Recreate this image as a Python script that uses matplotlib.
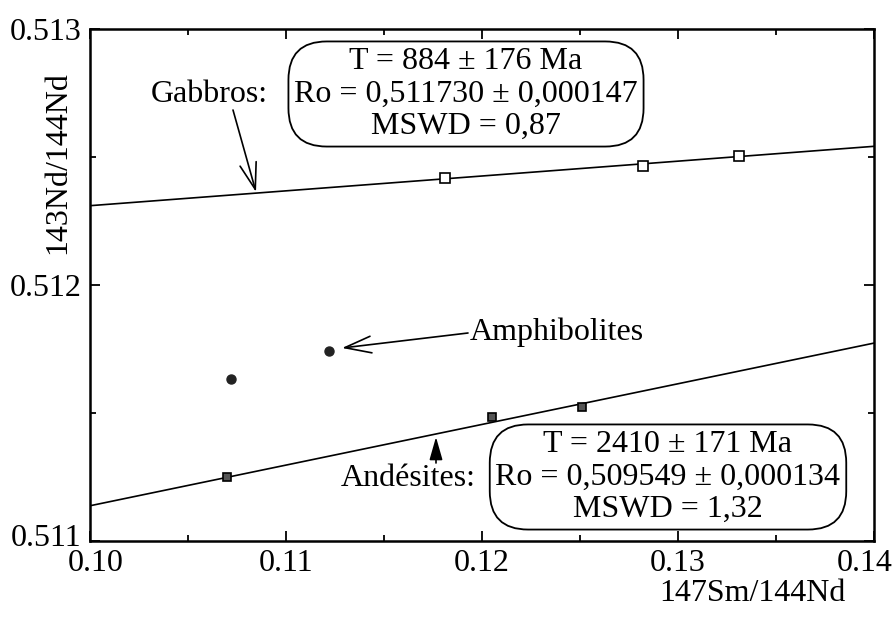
import numpy as np
import matplotlib
matplotlib.use("Agg")
import matplotlib.pyplot as plt
from matplotlib.transforms import ScaledTranslation

plt.rcParams['font.family'] = ['Liberation Serif', 'DejaVu Serif']

# Data
gabbro_sm = [0.1181, 0.1282, 0.1331]
gabbro_nd = [0.512417, 0.512466, 0.512504]

andesite_sm = [0.1070, 0.1205, 0.1251]
andesite_nd = [0.511251, 0.511483, 0.511522]

amphibolite_sm = [0.1072, 0.1122]
amphibolite_nd = [0.511632, 0.511742]

# Isochron results
gabbro_age = 884e6
gabbro_ro = 0.511730
andesite_age = 2410e6
andesite_ro = 0.509549
lam_sm = 6.54e-12  # 147Sm decay constant (1/yr)

x_ticks = [0.10, 0.11, 0.12, 0.13, 0.14]
x_labels = ['0.10', '0.11', '0.12', '0.13', '0.14']
y_ticks = [0.511, 0.512, 0.513]
y_labels = ['0.511', '0.512', '0.513']

FS = 23
W, H = 895, 621
L, R, T, B = 90, 874, 29, 541


def ax_pos(px, py):
    # pixel position in the picture -> axes fraction
    return ((px - L) / (R - L), (B - py) / (B - T))


fig = plt.figure(figsize=(W / 100, H / 100), dpi=100)
ax = fig.add_axes([L / W, 1 - B / H, (R - L) / W, (B - T) / H])

# isochron lines
xl = np.array([0.10, 0.14])
ax.plot(xl, gabbro_ro + (np.exp(lam_sm * gabbro_age) - 1) * xl, color='black', lw=1.2)
ax.plot(xl, andesite_ro + (np.exp(lam_sm * andesite_age) - 1) * xl, color='black', lw=1.2)

ax.plot(gabbro_sm, gabbro_nd, 's', ms=7, mfc='white', mec='black', mew=1.2, zorder=3)
ax.plot(andesite_sm, andesite_nd, 's', ms=6, mfc='#555555', mec='black', mew=1.2, zorder=3)
ax.plot(amphibolite_sm, amphibolite_nd, 'o', ms=6.5, mfc='#222222', mec='#222222', zorder=3)

ax.set_xlim(0.10, 0.14)
ax.set_ylim(0.511, 0.513)
ax.set_xticks(x_ticks)
ax.set_xticklabels(x_labels)
ax.set_yticks(y_ticks)
ax.set_yticklabels(y_labels)
ax.set_xticks([0.105, 0.115, 0.125, 0.135], minor=True)
ax.set_yticks([0.5115, 0.5125], minor=True)
ax.tick_params(which='both', direction='in', top=True, right=True,
               labelsize=FS, width=1.3)
ax.tick_params(axis='x', pad=6)
ax.tick_params(axis='y', pad=6)
ax.tick_params(which='major', length=7)
ax.tick_params(which='minor', length=4)
for s in ax.spines.values():
    s.set_linewidth(1.8)

# nudge the corner labels like in the original
xt = ax.get_xticklabels()
xt[0].set_transform(xt[0].get_transform() + ScaledTranslation(6 / 100, 0, fig.dpi_scale_trans))
xt[-1].set_transform(xt[-1].get_transform() + ScaledTranslation(-9 / 100, 0, fig.dpi_scale_trans))
yt = ax.get_yticklabels()
yt[0].set_transform(yt[0].get_transform() + ScaledTranslation(0, 6 / 100, fig.dpi_scale_trans))

fig.text(58 / W, 1 - 163 / H, '143Nd/144Nd', rotation=90, fontsize=FS,
         ha='center', va='center')
fig.text(752 / W, 1 - 601 / H, '147Sm/144Nd', fontsize=FS,
         ha='center', va='baseline')

box = dict(boxstyle='round,pad=0.18,rounding_size=1.2', fc='white', ec='black', lw=1.3)
ax.text(*ax_pos(466, 94), 'T = 884 ± 176 Ma\nRo = 0,511730 ± 0,000147\nMSWD = 0,87',
        transform=ax.transAxes, ha='center', va='center', fontsize=FS,
        linespacing=1.15, bbox=box)
ax.text(*ax_pos(668, 477), 'T = 2410 ± 171 Ma\nRo = 0,509549 ± 0,000134\nMSWD = 1,32',
        transform=ax.transAxes, ha='center', va='center', fontsize=FS,
        linespacing=1.15, bbox=box)

# labels
ax.text(*ax_pos(209, 95), 'Gabbros:', transform=ax.transAxes, fontsize=FS,
        ha='center', va='center')
ax.text(*ax_pos(470, 332), 'Amphibolites', transform=ax.transAxes, fontsize=FS,
        ha='left', va='center')
ax.text(*ax_pos(408, 479), 'Andésites:', transform=ax.transAxes, fontsize=FS,
        ha='center', va='center')

# arrows
open_head = dict(arrowstyle='->,head_length=0.95,head_width=0.3', mutation_scale=20,
                 color='black', lw=1.2, shrinkA=0, shrinkB=0)
ax.annotate('', xy=ax_pos(256, 192), xytext=ax_pos(233, 110),
            xycoords='axes fraction', textcoords='axes fraction', arrowprops=open_head)
ax.annotate('', xy=ax_pos(342, 348), xytext=ax_pos(468, 333),
            xycoords='axes fraction', textcoords='axes fraction', arrowprops=open_head)
ax.annotate('', xy=ax_pos(436, 437), xytext=ax_pos(436, 463),
            xycoords='axes fraction', textcoords='axes fraction',
            arrowprops=dict(arrowstyle='-|>,head_length=0.7,head_width=0.2',
                            mutation_scale=20, color='black', lw=1.2,
                            shrinkA=0, shrinkB=0))

fig.savefig('out.png', dpi=100, facecolor='white')
